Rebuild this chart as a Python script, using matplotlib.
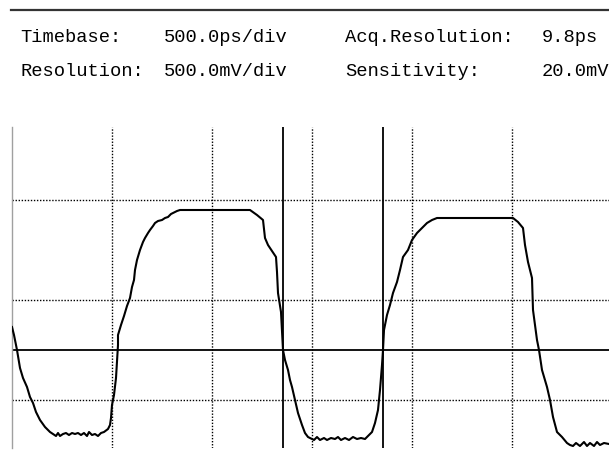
import matplotlib
matplotlib.use('Agg')
import matplotlib.pyplot as plt
from matplotlib.lines import Line2D

# header readout
labels_row1 = ['Timebase:', '500.0ps/div', 'Acq.Resolution:', '9.8ps']
labels_row2 = ['Resolution:', '500.0mV/div', 'Sensitivity:', '20.0mV']

# waveform (time in ps, level in mV)
time_ps = [0, 10, 25, 40, 55, 75, 90, 105, 120, 140, 165, 190, 205, 220, 230, 240,
           255, 270, 285, 300, 315, 330, 345, 360, 375, 385, 400, 415, 430, 445,
           460, 480, 490, 495, 500, 510, 520, 525, 530, 530, 545, 560, 575, 590,
           600, 610, 615, 625, 640, 655, 665, 680, 690, 705, 715, 730, 750, 765,
           780, 795, 805, 825, 840, 1190, 1225, 1255, 1265, 1280, 1290, 1310, 1320,
           1325, 1330, 1345, 1350, 1355, 1365, 1380, 1390, 1400, 1415, 1430, 1450,
           1465, 1480, 1490, 1510, 1525, 1540, 1560, 1575, 1595, 1615, 1630, 1645,
           1665, 1685, 1705, 1725, 1745, 1765, 1780, 1800, 1815, 1830, 1840, 1850,
           1855, 1860, 1875, 1890, 1905, 1925, 1940, 1955, 1980, 2000, 2025, 2050,
           2075, 2100, 2125, 2505, 2530, 2555, 2565, 2580, 2600, 2605, 2625, 2635,
           2650, 2675, 2690, 2705, 2725, 2750, 2775, 2790, 2805, 2820, 2840, 2860,
           2875, 2890, 2910, 2925, 2940, 2960, 2985]
level_mv = [-135, -175, -250, -340, -390, -435, -485, -515, -560, -600, -635, -660,
            -670, -680, -665, -680, -670, -665, -675, -665, -670, -665, -675, -665,
            -680, -660, -675, -670, -680, -665, -660, -645, -625, -590, -525, -475,
            -390, -310, -225, -175, -125, -80, -30, 10, 65, 100, 150, 200, 250, 290,
            310, 335, 350, 370, 385, 395, 400, 410, 415, 430, 435, 445, 450, 450,
            425, 400, 310, 275, 260, 230, 215, 140, 35, -60, -150, -250, -300, -350,
            -400, -435, -500, -565, -625, -665, -685, -690, -700, -685, -700, -690,
            -700, -690, -695, -685, -700, -690, -700, -685, -695, -690, -695, -680,
            -660, -615, -550, -450, -325, -250, -150, -75, -25, 35, 90, 150, 215,
            250, 300, 335, 360, 385, 400, 410, 410, 390, 360, 275, 190, 110, -50,
            -200, -250, -350, -435, -500, -585, -660, -685, -715, -725, -730, -715,
            -730, -710, -730, -715, -730, -710, -725, -715, -720]

cursor_ps = [1355, 1855]
ref_level_mv = -250
grid_x = [500, 1000, 1500, 2000, 2500]
grid_y = [-500, 0, 500]

W, H = 609, 450
fig = plt.figure(figsize=(W / 100, H / 100), dpi=100)
fig.patch.set_facecolor('white')

ax = fig.add_axes([12 / W, 2 / H, (W - 12) / W, (448 - 127) / H])
ax.set_xlim(0, 2985)
ax.set_ylim(-740, 865)

for gx in grid_x:
    ax.axvline(gx, color='black', lw=1, ls=(0, (1, 1.2)), zorder=1)
for gy in grid_y:
    ax.axhline(gy, color='black', lw=1, ls=(0, (1, 1.2)), zorder=1)

ax.axhline(ref_level_mv, color='black', lw=1.3, zorder=2)
for c in cursor_ps:
    ax.axvline(c, color='black', lw=1.3, zorder=2)

ax.plot(time_ps, level_mv, color='black', lw=1.5, zorder=3)

ax.set_xticks([])
ax.set_yticks([])
for s in ['top', 'right', 'bottom']:
    ax.spines[s].set_visible(False)
ax.spines['left'].set_color('#a0a0a0')
ax.spines['left'].set_linewidth(1)

# rule at the top
fig.add_artist(Line2D([11 / W, 1], [1 - 10 / H, 1 - 10 / H], color='#333333', lw=1.6))

cols = [20, 164, 345, 542]
font = dict(family='Liberation Mono', fontsize=13.5, va='center', ha='left', color='black')
for x, t in zip(cols, labels_row1):
    fig.text(x / W, 1 - 37 / H, t, **font)
for x, t in zip(cols, labels_row2):
    fig.text(x / W, 1 - 72 / H, t, **font)

fig.savefig('out.png', dpi=100)
